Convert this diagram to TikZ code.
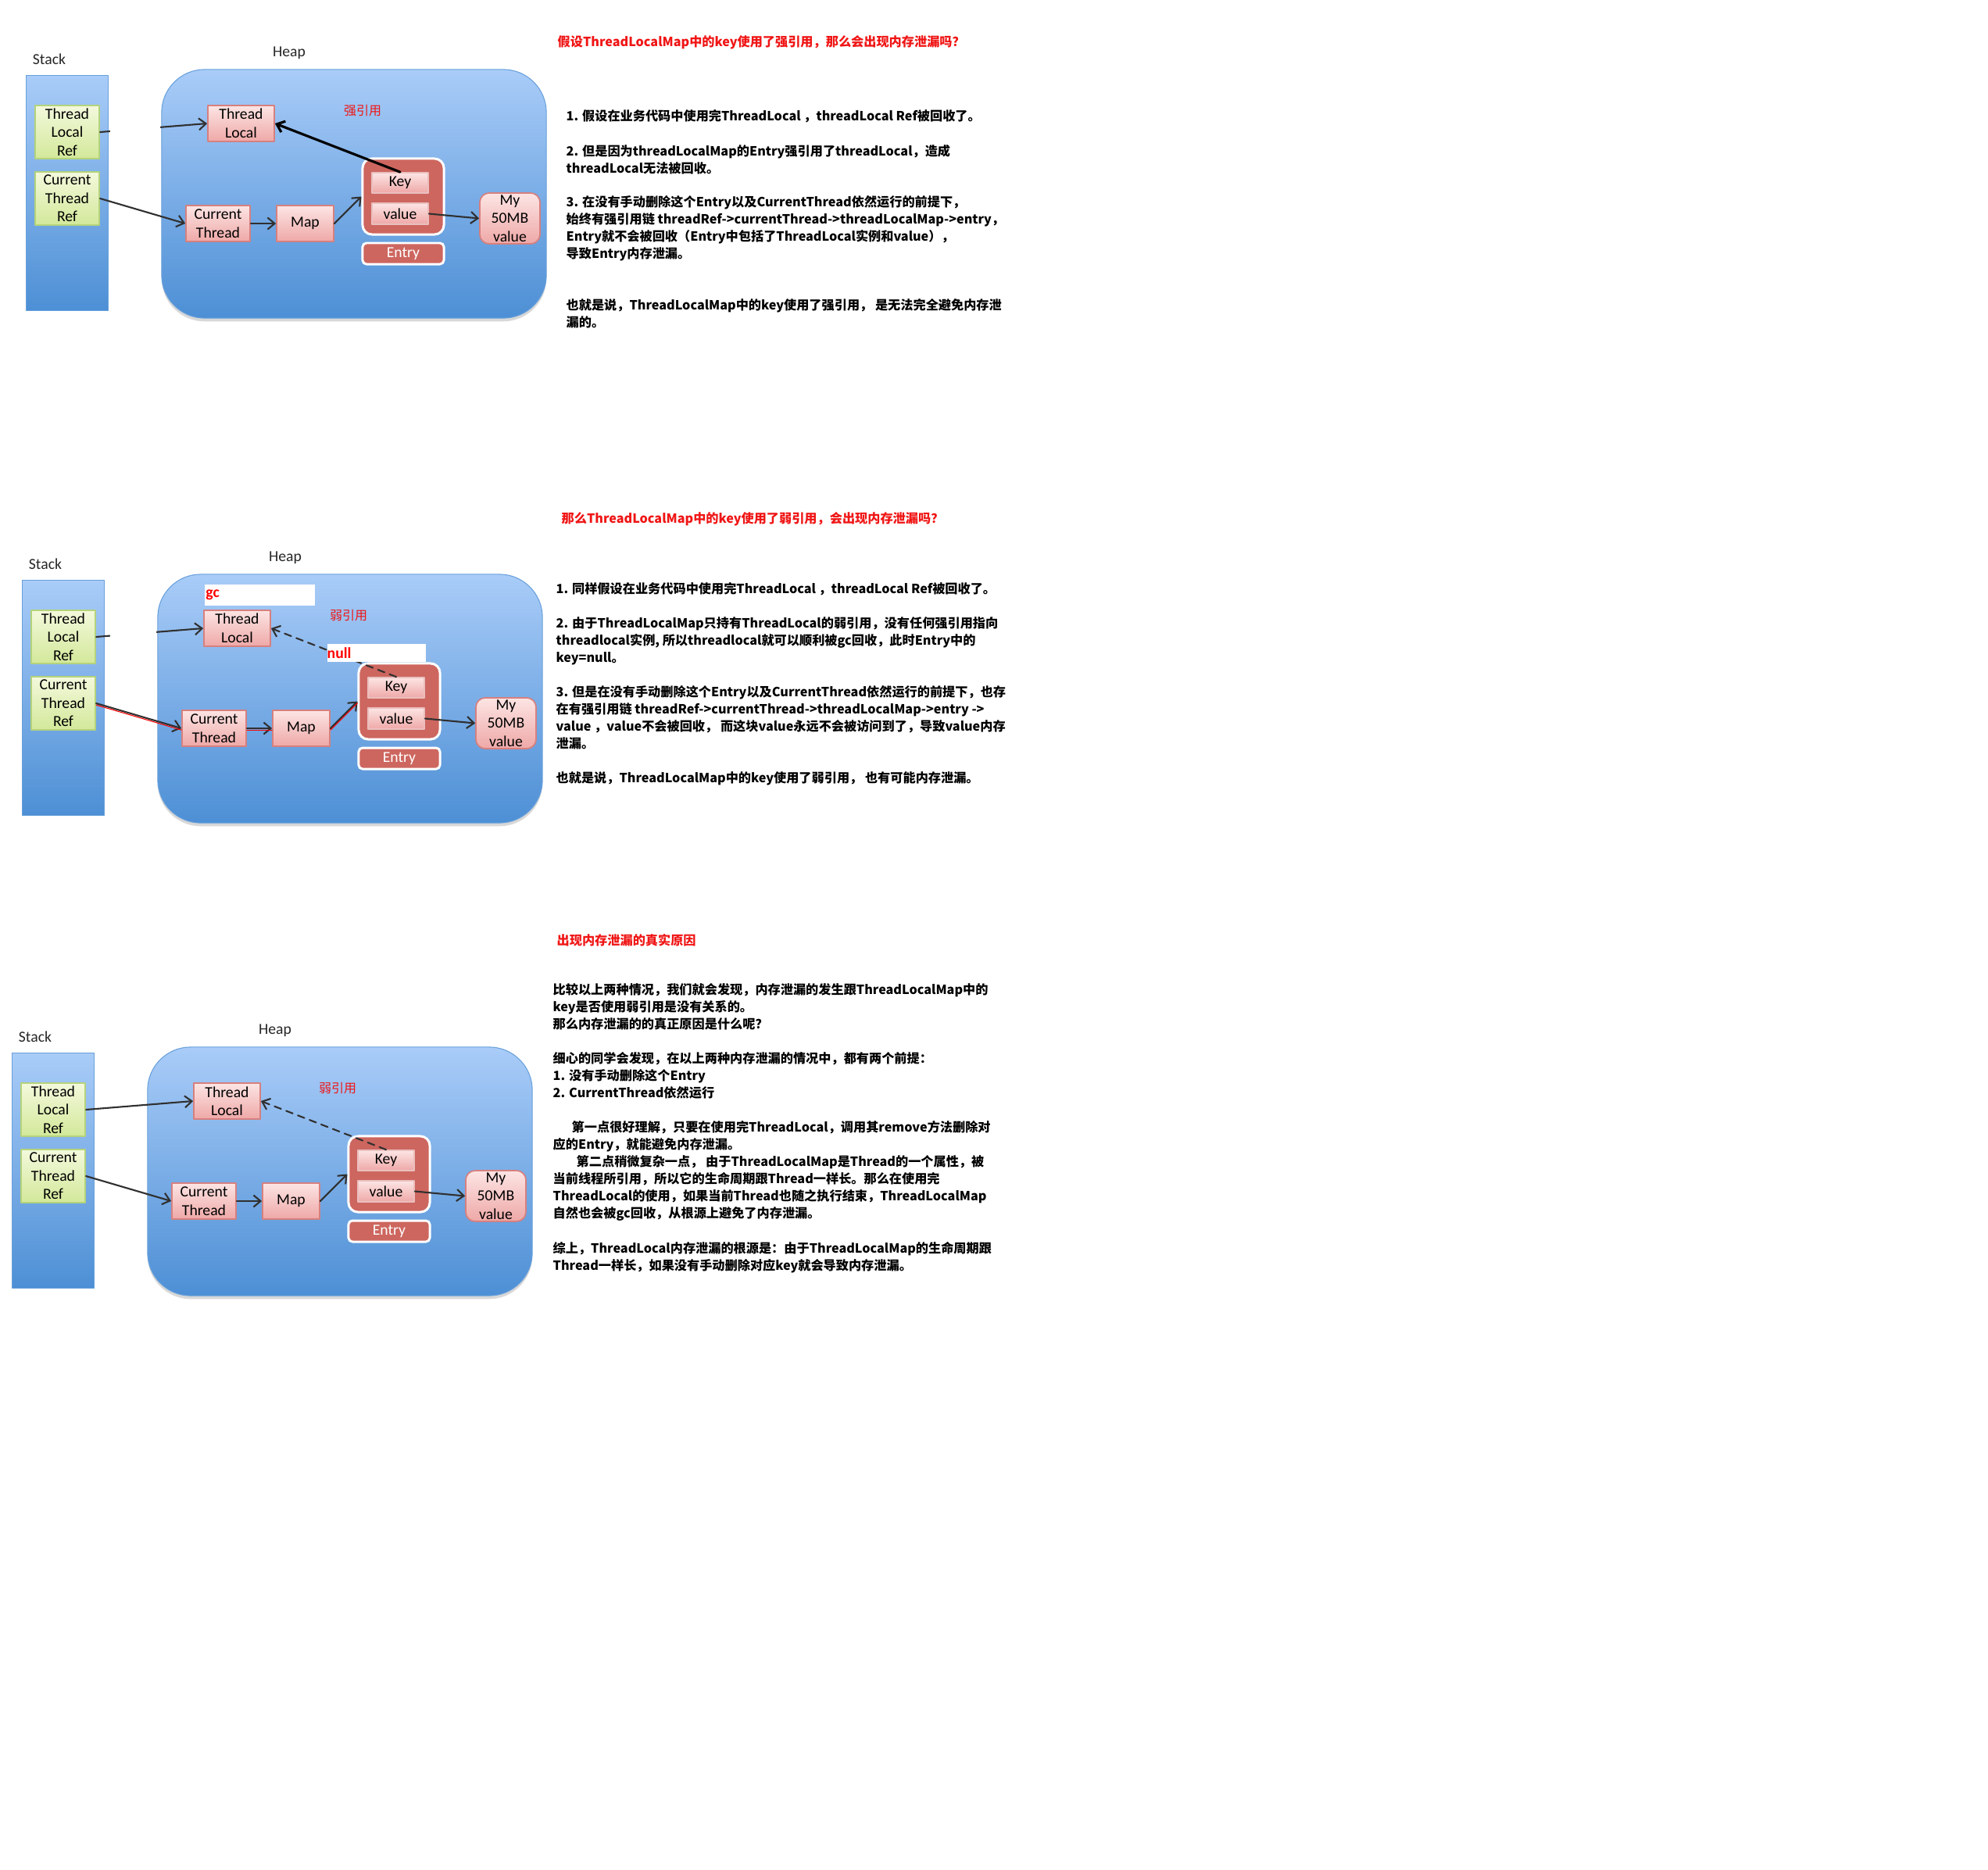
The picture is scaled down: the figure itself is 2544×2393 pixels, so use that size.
\documentclass[tikz,border=0pt]{standalone}
\usepackage{fontspec}
\setmainfont{Carlito}
\newfontfamily\cjk{Noto Sans CJK SC}
\usetikzlibrary{arrows.meta,shadows}
\definecolor{bluetop}{HTML}{A9CCF8}
\definecolor{bluebot}{HTML}{4D8FD5}
\definecolor{greentop}{HTML}{F3F9DC}
\definecolor{greenbot}{HTML}{D3E89A}
\definecolor{greenline}{HTML}{B5D37B}
\definecolor{pinktop}{HTML}{FCE5E4}
\definecolor{pinkbot}{HTML}{EEA8A7}
\definecolor{pinkline}{HTML}{D6807E}
\definecolor{entryred}{HTML}{CD665F}
\definecolor{darkline}{HTML}{303030}
\definecolor{textred}{HTML}{F01515}
\newcommand\boxfont{\fontsize{5.6}{6.7}\selectfont}
\newcommand\parafont{\cjk\bfseries\fontsize{4.6}{6.26}\selectfont}
\begin{document}
\begin{tikzpicture}[x=0.01cm,y=-0.01cm,>={Straight Barb[length=0.9mm,width=1.5mm]},line join=round,line cap=round,
    bluebox/.style={top color=bluetop,bottom color=bluebot,draw=bluebot!85!white,line width=0.3pt},
    greenbox/.style={top color=greentop,bottom color=greenbot,draw=greenline,line width=0.6pt,minimum width=0.82cm,minimum height=0.68cm,inner sep=0pt,align=center,font=\boxfont},
    pinkbox/.style={top color=pinktop,bottom color=pinkbot,draw=pinkline,line width=0.5pt,inner sep=0pt,align=center,font=\boxfont},
    entrybox/.style={fill=entryred,draw=white,line width=0.85pt,rounded corners=0.12cm,inner sep=0pt,font=\boxfont},
    lbl/.style={inner sep=0pt,font=\boxfont,text=black!85},
    reflbl/.style={inner sep=0pt,text=textred,font=\cjk\fontsize{4.55}{5}\selectfont},
    refarrow/.style={->,darkline,line width=0.6pt},
    strongref/.style={->,black,line width=0.9pt},
    weakref/.style={->,darkline,line width=0.6pt,dash pattern=on 0.9mm off 0.7mm},
    redtrace/.style={red,line width=0.3pt,transform canvas={yshift=-0.6pt}},
    para/.style={anchor=north west,align=left,inner sep=0pt,font=\parafont},
    paratitle/.style={para,text=textred}]
\fill[white] (0,0) rectangle (2544,2393);
\useasboundingbox (0,0) rectangle (2544,2393);
% the three stack/heap pictures
\foreach \p/\ox/\oy/\rel/\lx/\kt in {a/34/97/强引用/430/strongref,b/29/743/弱引用/417/weakref,c/16/1348/弱引用/416/weakref}{
  \begin{scope}[shift={(\ox,\oy)}]
    \node[bluebox,minimum width=1.04cm,minimum height=3cm] (\p-stack) at (52,150) {};
    \node[bluebox,rounded corners=0.55cm,minimum width=4.92cm,minimum height=3.18cm,
      drop shadow={shadow xshift=0pt,shadow yshift=-1.2pt,opacity=0.3}] (\p-heap) at (419,151) {};
    \node[lbl] (\p-stacklbl) at (29,-21) {Stack};
    \node[lbl] (\p-heaplbl) at (336,-29) {Heap};
    \node[greenbox] (\p-tlref) at (52,72) {Thread\\Local\\Ref};
    \node[greenbox] (\p-ctref) at (52,157) {Current\\Thread\\Ref};
    \node[pinkbox,minimum width=0.85cm,minimum height=0.46cm] (\p-tl) at (274.5,61) {Thread\\Local};
    \node[pinkbox,minimum width=0.82cm,minimum height=0.46cm] (\p-ct) at (245,189) {Current\\Thread};
    \node[pinkbox,minimum width=0.73cm,minimum height=0.46cm] (\p-map) at (356.5,189) {Map};
    \node[entrybox,minimum width=1.04cm,minimum height=0.97cm] (\p-entry) at (482,154.5) {};
    \node[pinkbox,draw=pinkline!50,minimum width=0.72cm,minimum height=0.26cm] (\p-key) at (478,137) {Key};
    \node[pinkbox,draw=pinkline!50,minimum width=0.72cm,minimum height=0.27cm] (\p-value) at (478,176.5) {value};
    \node[entrybox,rounded corners=0.05cm,minimum width=1.04cm,minimum height=0.27cm,text=white] (\p-entrylbl) at (482,227.5) {Entry};
    \node[pinkbox,rounded corners=0.12cm,minimum width=0.77cm,minimum height=0.65cm] (\p-my) at (618.5,182.5) {My\\50MB\\value};
    \node[reflbl] (\p-ref) at (\lx,45) {\rel};
    \draw[refarrow] (\p-tlref.east) -- (\p-tl.west);
    \draw[refarrow] (\p-ctref.east) -- (\p-ct.west);
    \draw[refarrow] (\p-ct.east) -- (\p-map.west);
    \draw[refarrow] (\p-map.east) -- (\p-entry.west);
    \draw[refarrow] (\p-value.east) -- (\p-my.west);
    \draw[\kt] (\p-key.north) -- (\p-tl.east);
  \end{scope}
}
% gap between stack and heap
\fill[white] (141,155) rectangle (205,181) (141,800) rectangle (200,824);
\draw[redtrace] (b-ctref.east) -- (b-ct.west);
\draw[redtrace] (b-ct.east) -- (b-map.west);
\draw[redtrace] (b-map.east) -- (b-entry.west);
\node[fill=white,anchor=north west,minimum width=1.41cm,minimum height=0.27cm] (gcbox) at (261,747) {};
\node[anchor=west,inner sep=0.5pt,text=red,font=\boxfont\bfseries] (gc) at (gcbox.west) {gc};
\node[fill=white,anchor=north west,minimum width=1.26cm,minimum height=0.22cm] (nullbox) at (418,823) {};
\node[anchor=west,inner sep=0pt,text=red,font=\boxfont\bfseries] (null) at (nullbox.west) {null};

\node[paratitle] (atitle) at (713,45) {假设ThreadLocalMap中的key使用了强引用，那么会出现内存泄漏吗？};
\node[para] (a1) at (724,140) {1. 假设在业务代码中使用完ThreadLocal ，threadLocal Ref被回收了。};
\node[para] (a2) at (724,185) {2. 但是因为threadLocalMap的Entry强引用了threadLocal，造成\\threadLocal无法被回收。};
\node[para] (a3) at (724,250) {3. 在没有手动删除这个Entry以及CurrentThread依然运行的前提下，\\始终有强引用链 threadRef->currentThread->threadLocalMap->entry，\\Entry就不会被回收（Entry中包括了ThreadLocal实例和value），\\导致Entry内存泄漏。};
\node[para] (a4) at (724,382) {也就是说，ThreadLocalMap中的key使用了强引用， 是无法完全避免内存泄\\漏的。};

\node[paratitle] (btitle) at (718,655) {那么ThreadLocalMap中的key使用了弱引用，会出现内存泄漏吗？};
\node[para] (b1) at (711,745) {1. 同样假设在业务代码中使用完ThreadLocal ，threadLocal Ref被回收了。};
\node[para] (b2) at (711,789) {2. 由于ThreadLocalMap只持有ThreadLocal的弱引用，没有任何强引用指向\\threadlocal实例, 所以threadlocal就可以顺利被gc回收，此时Entry中的\\key=null。};
\node[para] (b3) at (711,877) {3. 但是在没有手动删除这个Entry以及CurrentThread依然运行的前提下，也存\\在有强引用链 threadRef->currentThread->threadLocalMap->entry ->\\value ，value不会被回收， 而这块value永远不会被访问到了，导致value内存\\泄漏。};
\node[para] (b4) at (711,987) {也就是说，ThreadLocalMap中的key使用了弱引用， 也有可能内存泄漏。};

\node[paratitle] (ctitle) at (712,1195) {出现内存泄漏的真实原因};
\node[para] (c1) at (707,1258) {比较以上两种情况，我们就会发现，内存泄漏的发生跟ThreadLocalMap中的\\key是否使用弱引用是没有关系的。\\那么内存泄漏的的真正原因是什么呢？};
\node[para] (c2) at (707,1346) {细心的同学会发现，在以上两种内存泄漏的情况中，都有两个前提：\\1. 没有手动删除这个Entry\\2. CurrentThread依然运行};
\node[para] (c3) at (707,1434) {\hspace*{0.24cm}第一点很好理解，只要在使用完ThreadLocal，调用其remove方法删除对\\应的Entry，就能避免内存泄漏。\\\hspace*{0.3cm}第二点稍微复杂一点， 由于ThreadLocalMap是Thread的一个属性，被\\当前线程所引用，所以它的生命周期跟Thread一样长。那么在使用完\\ThreadLocal的使用，如果当前Thread也随之执行结束，ThreadLocalMap\\自然也会被gc回收，从根源上避免了内存泄漏。};
\node[para] (c4) at (707,1589) {综上，ThreadLocal内存泄漏的根源是：由于ThreadLocalMap的生命周期跟\\Thread一样长，如果没有手动删除对应key就会导致内存泄漏。};
\end{tikzpicture}
\end{document}
